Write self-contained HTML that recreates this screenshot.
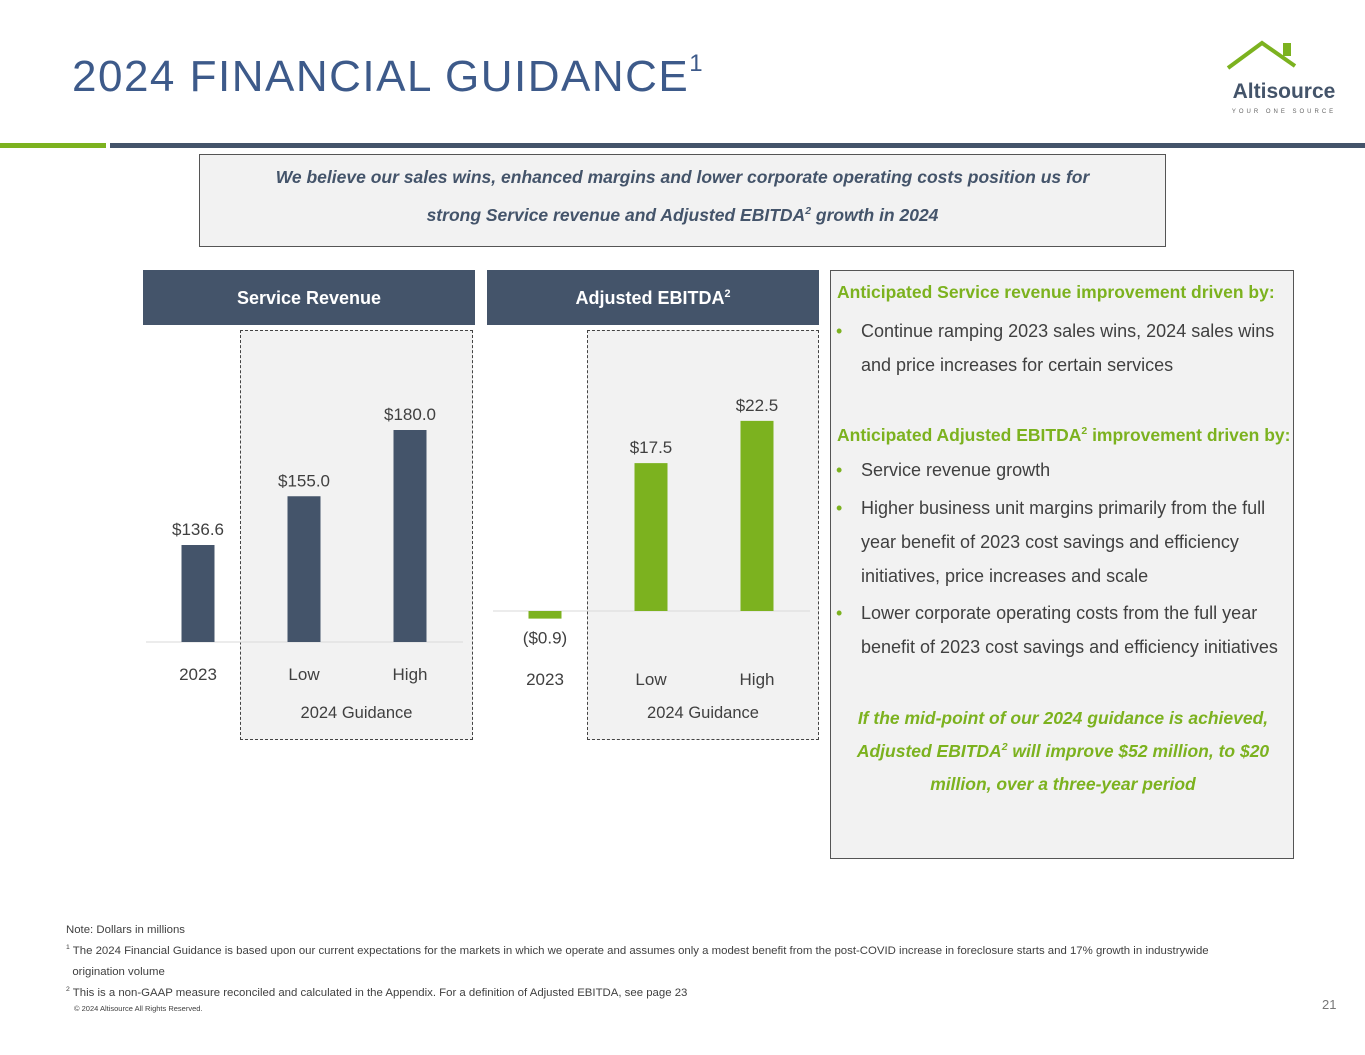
<!DOCTYPE html>
<html><head><meta charset="utf-8"><style>
*{margin:0;padding:0;box-sizing:border-box}
body{width:1365px;height:1055px;background:#fff;position:relative;overflow:hidden;font-family:"Liberation Sans",sans-serif;color:#404040}
.a{position:absolute}
.t{white-space:nowrap}
sup{font-size:60%;vertical-align:super;line-height:0}
.g{color:#7cb21f}
.li{position:absolute;left:30px;font-size:18px;color:#404040;line-height:34px;white-space:nowrap}
.li:before{content:"•";position:absolute;left:-25px;color:#7cb21f}
</style></head><body>
<div class="a t" style="left:72px;top:50px;font-size:44px;letter-spacing:1.5px;color:#3d5a8a">2024 FINANCIAL GUIDANCE<span style="font-size:24px;vertical-align:20px;letter-spacing:0">1</span></div>
<svg class="a" style="left:1220px;top:38px" width="130" height="80">
<polyline points="8,30 42,5 75,28" fill="none" stroke="#7cb21f" stroke-width="4"/><rect x="63" y="5" width="8" height="13" fill="#7cb21f"/>
<text x="64" y="60" text-anchor="middle" font-family="Liberation Sans" font-weight="bold" font-size="21" fill="#44546a">Altisource</text>
<text x="64" y="75" text-anchor="middle" font-family="Liberation Sans" font-size="6" letter-spacing="3" fill="#666">YOUR ONE SOURCE</text></svg>
<div class="a" style="left:0;top:143px;width:106px;height:5px;background:#7cb21f"></div>
<div class="a" style="left:110px;top:143px;width:1255px;height:5px;background:#44546a"></div>
<div class="a t" style="left:199px;top:154px;width:967px;height:93px;border:1px solid #555;background:#f2f2f2;text-align:center;font-weight:bold;font-style:italic;font-size:17.5px;line-height:38px;padding-top:3px;color:#44546a">We believe our sales wins, enhanced margins and lower corporate operating costs position us for<br>strong Service revenue and Adjusted EBITDA<sup>2</sup> growth in 2024</div>

<div class="a" style="left:143px;top:270px;width:332px;height:55px;background:#44546a;color:#fff;font-weight:bold;font-size:18px;text-align:center;line-height:57px">Service Revenue</div>
<div class="a" style="left:487px;top:270px;width:332px;height:55px;background:#44546a;color:#fff;font-weight:bold;font-size:18px;text-align:center;line-height:57px">Adjusted EBITDA<sup>2</sup></div>
<div class="a" style="left:240px;top:330px;width:233px;height:410px;border:1px dashed #444;background:#f2f2f2"></div>
<div class="a" style="left:587px;top:330px;width:232px;height:410px;border:1px dashed #444;background:#f2f2f2"></div>
<svg class="a" id="charts" style="left:0;top:0" width="1365" height="1055"></svg>
<div class="a t" style="left:240px;width:233px;top:704px;text-align:center;font-size:16.5px">2024 Guidance</div>
<div class="a t" style="left:587px;width:232px;top:704px;text-align:center;font-size:16.5px">2024 Guidance</div>

<div class="a" style="left:830px;top:270px;width:464px;height:589px;border:1px solid #555;background:#f2f2f2">
<div class="a t g" style="left:6px;top:11px;font-size:17.5px;font-weight:bold">Anticipated Service revenue improvement driven by:</div>
<div class="li" style="top:43px">Continue ramping 2023 sales wins, 2024 sales wins<br>and price increases for certain services</div>
<div class="a t g" style="left:6px;top:154px;font-size:17.5px;font-weight:bold">Anticipated Adjusted EBITDA<sup>2</sup> improvement driven by:</div>
<div class="li" style="top:182px">Service revenue growth</div>
<div class="li" style="top:220px">Higher business unit margins primarily from the full<br>year benefit of 2023 cost savings and efficiency<br>initiatives, price increases and scale</div>
<div class="li" style="top:325px">Lower corporate operating costs from the full year<br>benefit of 2023 cost savings and efficiency initiatives</div>
<div class="a t g" style="left:0;width:464px;top:431px;text-align:center;font-size:17.5px;font-weight:bold;font-style:italic;line-height:33px">If the mid-point of our 2024 guidance is achieved,<br>Adjusted EBITDA<sup>2</sup> will improve $52 million, to $20<br>million, over a three-year period</div>
</div>

<div class="a t" style="left:66px;top:920px;font-size:11.4px;line-height:21px;color:#404040">Note: Dollars in millions<br><sup>1</sup> The 2024 Financial Guidance is based upon our current expectations for the markets in which we operate and assumes only a modest benefit from the post-COVID increase in foreclosure starts and 17% growth in industrywide<br>&nbsp;&nbsp;origination volume<br><sup>2</sup> This is a non-GAAP measure reconciled and calculated in the Appendix. For a definition of Adjusted EBITDA, see page 23</div>
<div class="a t" style="left:74px;top:1004px;font-size:7.5px">© 2024 Altisource All Rights Reserved.</div>
<div class="a t" style="left:1322px;top:997px;font-size:13px;color:#777">21</div>

<script>
const revCats=["2023","Low","High"];
const revVals=[136.6,155.0,180.0];
const revLabels=["$136.6","$155.0","$180.0"];
const ebCats=["2023","Low","High"];
const ebVals=[-0.9,17.5,22.5];
const ebLabels=["($0.9)","$17.5","$22.5"];
const NS="http://www.w3.org/2000/svg";
const svg=document.getElementById('charts');
function mk(t,a){const e=document.createElementNS(NS,t);for(const k in a)e.setAttribute(k,a[k]);svg.appendChild(e);return e;}
function chart(cats,vals,labels,x0,base,vmin,scale,color,name,catY){
  const y=v=>base-(v-vmin)*scale;
  const zeroY=y(Math.max(vmin,0));
  const ax=mk('line',{x1:x0-52,x2:x0+265,y1:zeroY,y2:zeroY,stroke:'#d9d9d9','stroke-width':1});
  
  
  cats.forEach((c,i)=>{
    const cx=x0+i*106;const v=vals[i];
    const top=Math.min(y(v),zeroY),h=Math.abs(y(v)-zeroY);
    const r=mk('rect',{x:cx-16.5,y:top,width:33,height:h,fill:color});
    
    
    const ly=v>=0?top-10:top+h+25;
    const t=mk('text',{x:cx,y:ly,'text-anchor':'middle','font-size':17,fill:'#404040','font-family':'Liberation Sans, sans-serif'});
    t.textContent=labels[i];
    
    
    const ct=mk('text',{x:cx,y:catY,'text-anchor':'middle','font-size':17,fill:'#404040','font-family':'Liberation Sans, sans-serif'});
    ct.textContent=c;
    
    
  });
}
chart(revCats,revVals,revLabels,198,642,100,2.65,'#44546a','revenue',680);
chart(ebCats,ebVals,ebLabels,545,611,0,8.45,'#7cb21f','ebitda',685);
</script>
</body></html>
